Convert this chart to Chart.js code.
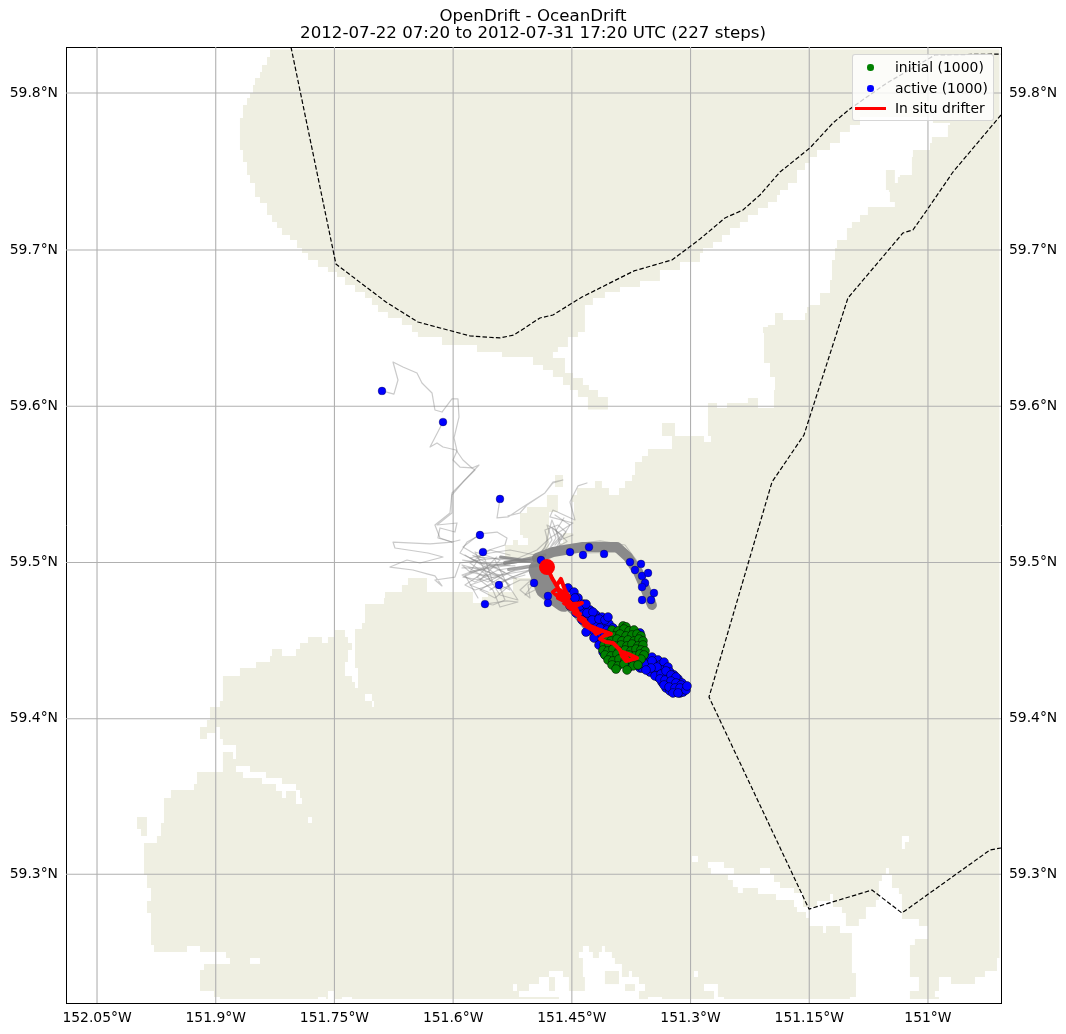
<!DOCTYPE html>
<html>
<head>
<meta charset="utf-8">
<title>OpenDrift - OceanDrift</title>
<script src="https://cdn.jsdelivr.net/npm/chart.js@4/dist/chart.umd.js"></script>
<style>
    body { margin: 0; background: #fff; font-family: "DejaVu Sans", sans-serif; }
    #wrap { position: relative; width: 1066px; height: 1034px; }
    #legend {
        position: absolute; left: 852px; top: 54px; width: 142px; height: 67px; box-sizing: border-box;
        background: rgba(255, 255, 255, 0.8); border: 1px solid rgba(204, 204, 204, 0.8); border-radius: 3px;
        font-size: 13.9px; color: #000;
    }
    #legend .row { position: absolute; left: 0; height: 20px; line-height: 20px; white-space: nowrap; }
    #legend .label { position: absolute; left: 42px; }
    #legend .dot { position: absolute; left: 14px; top: 7px; width: 6.5px; height: 6.5px; border-radius: 50%; }
    #legend .line { position: absolute; left: 2px; top: 9px; width: 31px; height: 2.8px; }
</style>
</head>
<body>
<div id="wrap">
    <canvas id="chart" width="1066" height="1034"></canvas>
    <div id="legend"></div>
</div>
<script>
const lonMin = -152.0892, lonMax = -150.9077, latMin = 59.2176, latMax = 59.8294;
const lonTicks = [-152.05, -151.9, -151.75, -151.6, -151.45, -151.3, -151.15, -151];
// the map is Mercator, so the inner parallels sit a hair off a straight lat axis
const latTicks = [59.3, 59.3995, 59.4995, 59.5995, 59.6995, 59.8];

const titleLines = ['OpenDrift - OceanDrift', '2012-07-22 07:20 to 2012-07-31 17:20 UTC (227 steps)'];
const legendInitial = 'initial (1000)', legendActive = 'active (1000)', legendDrifter = 'In situ drifter';

const landColor = '#efefe2', gridColor = '#b0b0b0', initialColor = '#008000', activeColor = '#0000ff', drifterColor = '#ff0000';

// coast, lon/lat, walked round the whole land raster
const coastline = [
    [-151.8289,59.8278],[-151.8314,59.8230],[-151.8352,59.8179],[-151.8415,59.8134],[-151.8441,59.8096],[-151.8504,59.8051],[-151.8529,59.8000],[-151.8567,59.7968],[-151.8605,59.7923],[-151.8656,59.7840],[-151.8694,59.7795],[-151.8694,59.7635],[-151.8656,59.7558],[-151.8605,59.7475],[-151.8567,59.7424],[-151.8504,59.7334],[-151.8441,59.7296],[-151.8352,59.7219],[-151.8289,59.7174],[-151.8226,59.7136],[-151.8163,59.7091],[-151.8062,59.7059],[-151.7973,59.7008],[-151.7910,59.6976],[-151.7834,59.6931],[-151.7708,59.6886],[-151.7582,59.6854],[-151.7468,59.6822],[-151.7367,59.6771],[-151.7240,59.6726],[-151.7114,59.6688],[-151.7026,59.6643],[-151.6950,59.6598],[-151.6824,59.6560],[-151.6647,59.6515],[-151.6520,59.6470],[-151.6445,59.6438],[-151.6141,59.6387],[-151.5699,59.6342],[-151.5383,59.6310],[-151.4991,59.6259],[-151.4865,59.6227],[-151.4739,59.6182],[-151.4612,59.6131],[-151.4524,59.6099],[-151.4423,59.6054],[-151.4297,59.5974],[-151.4044,59.5974],[-151.4044,59.6054],[-151.4170,59.6099],[-151.4284,59.6131],[-151.4360,59.6176],[-151.4486,59.6208],[-151.4587,59.6259],[-151.4587,59.6304],[-151.4739,59.6342],[-151.4676,59.6374],[-151.4550,59.6438],[-151.4423,59.6470],[-151.4335,59.6643],[-151.4234,59.6688],[-151.4082,59.6726],[-151.3892,59.6758],[-151.3639,59.6797],[-151.3387,59.6867],[-151.3134,59.6918],[-151.2881,59.6976],[-151.2843,59.7008],[-151.2717,59.7046],[-151.2603,59.7091],[-151.2502,59.7136],[-151.2376,59.7174],[-151.2275,59.7219],[-151.2148,59.7264],[-151.2022,59.7302],[-151.1908,59.7347],[-151.1870,59.7379],[-151.1769,59.7424],[-151.1655,59.7507],[-151.1554,59.7552],[-151.1491,59.7590],[-151.1402,59.7635],[-151.1238,59.7680],[-151.1112,59.7750],[-151.0986,59.7795],[-151.0859,59.7846],[-151.0101,59.7846],[-150.9937,59.7808],[-150.9722,59.7795],[-150.9748,59.7718],[-150.9950,59.7680],[-150.9975,59.7635],[-151.0165,59.7635],[-151.0190,59.7590],[-151.0203,59.7475],[-151.0354,59.7462],[-151.0380,59.7424],[-151.0418,59.7507],[-151.0531,59.7507],[-151.0531,59.7379],[-151.0493,59.7366],[-151.0481,59.7302],[-151.0418,59.7270],[-151.0759,59.7296],[-151.0759,59.7219],[-151.0859,59.7174],[-151.0961,59.7136],[-151.1024,59.7059],[-151.1150,59.7008],[-151.1175,59.6931],[-151.1213,59.6803],[-151.1238,59.6720],[-151.1364,59.6720],[-151.1364,59.6643],[-151.1491,59.6630],[-151.1529,59.6592],[-151.1554,59.6547],[-151.1794,59.6547],[-151.1832,59.6592],[-151.1920,59.6592],[-151.1933,59.6515],[-151.2022,59.6502],[-151.2085,59.6464],[-151.2072,59.6272],[-151.1996,59.6182],[-151.1933,59.6099],[-151.1946,59.5984],[-151.2123,59.5984],[-151.2148,59.6048],[-151.2275,59.6048],[-151.2275,59.6016],[-151.2528,59.6016],[-151.2540,59.5984],[-151.2666,59.5977],[-151.2666,59.6016],[-151.2729,59.6016],[-151.2780,59.5984],[-151.2780,59.5805],[-151.2742,59.5805],[-151.2742,59.5766],[-151.2830,59.5766],[-151.2830,59.5805],[-151.3197,59.5805],[-151.3197,59.5888],[-151.3361,59.5888],[-151.3361,59.5805],[-151.3235,59.5805],[-151.3235,59.5722],[-151.3538,59.5722],[-151.3538,59.5677],[-151.3614,59.5677],[-151.3614,59.5638],[-151.3702,59.5600],[-151.3702,59.5555],[-151.3740,59.5555],[-151.3740,59.5517],[-151.3828,59.5517],[-151.3828,59.5472],[-151.3904,59.5472],[-151.3904,59.5427],[-151.4031,59.5427],[-151.4031,59.5472],[-151.4120,59.5472],[-151.4120,59.5517],[-151.4208,59.5517],[-151.4208,59.5472],[-151.4347,59.5472],[-151.4436,59.5427],[-151.4499,59.5382],[-151.4473,59.5267],[-151.4486,59.5184],[-151.4612,59.5120],[-151.4650,59.5062],[-151.4789,59.5062],[-151.4789,59.5319],[-151.4676,59.5363],[-151.4676,59.5427],[-151.4802,59.5427],[-151.4815,59.5350],[-151.4991,59.5350],[-151.5067,59.5312],[-151.5155,59.5254],[-151.5155,59.5171],[-151.5118,59.5152],[-151.5054,59.5139],[-151.5054,59.5107],[-151.5181,59.5107],[-151.5181,59.5139],[-151.5244,59.5139],[-151.5244,59.5107],[-151.5345,59.5107],[-151.5345,59.5024],[-151.4966,59.5024],[-151.4966,59.4896],[-151.5244,59.4806],[-151.5560,59.4774],[-151.5636,59.4736],[-151.5750,59.4736],[-151.5750,59.4806],[-151.6166,59.4806],[-151.6330,59.4896],[-151.6520,59.4896],[-151.6571,59.4851],[-151.6647,59.4806],[-151.6861,59.4768],[-151.6874,59.4729],[-151.7114,59.4729],[-151.7114,59.4608],[-151.7152,59.4608],[-151.7152,59.4570],[-151.7240,59.4570],[-151.7240,59.4320],[-151.7202,59.4320],[-151.7202,59.4192],[-151.7240,59.4192],[-151.7240,59.4230],[-151.7278,59.4230],[-151.7278,59.4269],[-151.7367,59.4269],[-151.7367,59.4358],[-151.7329,59.4358],[-151.7329,59.4435],[-151.7278,59.4441],[-151.7278,59.4480],[-151.7329,59.4480],[-151.7329,59.4518],[-151.7367,59.4518],[-151.7367,59.4563],[-151.7493,59.4570],[-151.7493,59.4518],[-151.7582,59.4518],[-151.7582,59.4480],[-151.7657,59.4480],[-151.7657,59.4518],[-151.7834,59.4518],[-151.7834,59.4480],[-151.7935,59.4480],[-151.7935,59.4441],[-151.7986,59.4441],[-151.7986,59.4397],[-151.8163,59.4397],[-151.8163,59.4441],[-151.8289,59.4441],[-151.8289,59.4397],[-151.8314,59.4397],[-151.8314,59.4358],[-151.8491,59.4358],[-151.8491,59.4320],[-151.8694,59.4320],[-151.8694,59.4269],[-151.8909,59.4269],[-151.8909,59.4109],[-151.8947,59.4109],[-151.8947,59.4070],[-151.9073,59.4070],[-151.9073,59.3987],[-151.9111,59.3981],[-151.9111,59.3942],[-151.9199,59.3942],[-151.9199,59.3866],[-151.9111,59.3866],[-151.9111,59.3904],[-151.8997,59.3904],[-151.8997,59.3942],[-151.8947,59.3942],[-151.8947,59.3866],[-151.8909,59.3866],[-151.8909,59.3827],[-151.8744,59.3821],[-151.8744,59.3738],[-151.8782,59.3738],[-151.8782,59.3782],[-151.8909,59.3782],[-151.8909,59.3654],[-151.9237,59.3654],[-151.9237,59.3577],[-151.9275,59.3577],[-151.9275,59.3539],[-151.9566,59.3533],[-151.9566,59.3488],[-151.9654,59.3488],[-151.9654,59.3328],[-151.9692,59.3328],[-151.9692,59.3245],[-151.9743,59.3245],[-151.9743,59.3200],[-151.9906,59.3200],[-151.9906,59.2995],[-151.9869,59.2995],[-151.9869,59.2912],[-151.9818,59.2912],[-151.9818,59.2829],[-151.9869,59.2829],[-151.9869,59.2752],[-151.9818,59.2752],[-151.9818,59.2547],[-151.9780,59.2535],[-151.9780,59.2503],[-151.9363,59.2503],[-151.9363,59.2541],[-151.9199,59.2541],[-151.9199,59.2503],[-151.8870,59.2503],[-151.8870,59.2464],[-151.8820,59.2464],[-151.8820,59.2426],[-151.9148,59.2426],[-151.9148,59.2387],[-151.9199,59.2381],[-151.9199,59.2253],[-151.9022,59.2253],[-151.9022,59.2214],[-151.8947,59.2214],[-151.8947,59.2201],[-150.9097,59.2201],[-150.9097,59.8278],[-151.8289,59.8278]
];

// white inlets and lakes cut out of the land
const lakes = [
    [[-151.7114,59.4153],[-151.7026,59.4153],[-151.7026,59.4109],[-151.7000,59.4109],[-151.7000,59.4070],[-151.7026,59.4070],[-151.7026,59.4109],[-151.7114,59.4109]],
    [[-151.8744,59.3693],[-151.8567,59.3693],[-151.8567,59.3654],[-151.8365,59.3654],[-151.8365,59.3616],[-151.8163,59.3616],[-151.8163,59.3577],[-151.7986,59.3577],[-151.7986,59.3539],[-151.7935,59.3533],[-151.7935,59.3488],[-151.7910,59.3488],[-151.7910,59.3450],[-151.7986,59.3450],[-151.7986,59.3533],[-151.8112,59.3533],[-151.8112,59.3488],[-151.8163,59.3488],[-151.8163,59.3533],[-151.8238,59.3533],[-151.8238,59.3577],[-151.8415,59.3577],[-151.8415,59.3616],[-151.8656,59.3616],[-151.8656,59.3654],[-151.8744,59.3654]],
    [[-151.6546,59.2201],[-151.4663,59.2201],[-151.4663,59.2214],[-151.5168,59.2214],[-151.5168,59.2253],[-151.5042,59.2253],[-151.5042,59.2297],[-151.4915,59.2297],[-151.4915,59.2342],[-151.4789,59.2342],[-151.4789,59.2381],[-151.4612,59.2381],[-151.4612,59.2342],[-151.4537,59.2342],[-151.4537,59.2253],[-151.4335,59.2253],[-151.4335,59.2342],[-151.4360,59.2342],[-151.4360,59.2464],[-151.4411,59.2464],[-151.4411,59.2503],[-151.4360,59.2503],[-151.4360,59.2541],[-151.4284,59.2541],[-151.4284,59.2503],[-151.4234,59.2503],[-151.4234,59.2464],[-151.4158,59.2464],[-151.4158,59.2503],[-151.4120,59.2503],[-151.4120,59.2541],[-151.4082,59.2541],[-151.4082,59.2503],[-151.3994,59.2503],[-151.3994,59.2464],[-151.3956,59.2464],[-151.3956,59.2426],[-151.3867,59.2426],[-151.3867,59.2342],[-151.3779,59.2342],[-151.3779,59.2381],[-151.3740,59.2381],[-151.3740,59.2342],[-151.3652,59.2342],[-151.3652,59.2297],[-151.3576,59.2297],[-151.3576,59.2253],[-151.3538,59.2253],[-151.3538,59.2214],[-151.3361,59.2214],[-151.3361,59.2189],[-151.6546,59.2189]],
    [[-151.2528,59.2995],[-151.2528,59.2963],[-151.2465,59.2963],[-151.2465,59.2918],[-151.2402,59.2918],[-151.2402,59.2880],[-151.2339,59.2880],[-151.2339,59.2912],[-151.2148,59.2912],[-151.2148,59.2873],[-151.1920,59.2873],[-151.1920,59.2835],[-151.1693,59.2835],[-151.1693,59.2790],[-151.1655,59.2758],[-151.1541,59.2758],[-151.1541,59.2720],[-151.1503,59.2720],[-151.1503,59.2669],[-151.1326,59.2669],[-151.1326,59.2624],[-151.1288,59.2624],[-151.1288,59.2669],[-151.1112,59.2669],[-151.1112,59.2624],[-151.0986,59.2624],[-151.0961,59.2579],[-151.0961,59.2368],[-151.0910,59.2368],[-151.0910,59.2214],[-151.0986,59.2214],[-151.0986,59.2189],[-151.0228,59.2189],[-151.0228,59.2253],[-151.0114,59.2253],[-151.0114,59.2342],[-151.0228,59.2342],[-151.0228,59.2547],[-151.0165,59.2547],[-151.0165,59.2586],[-151.0000,59.2586],[-151.0000,59.2669],[-151.0114,59.2669],[-151.0114,59.2714],[-151.0329,59.2714],[-151.0329,59.2873],[-151.0367,59.2873],[-151.0367,59.2912],[-151.0455,59.2912],[-151.0455,59.2995],[-151.0582,59.2995],[-151.0582,59.2957],[-151.0620,59.2957],[-151.0620,59.2835],[-151.0658,59.2835],[-151.0658,59.2790],[-151.0784,59.2752],[-151.0784,59.2714],[-151.0873,59.2714],[-151.0873,59.2669],[-151.0961,59.2669],[-151.1037,59.2714],[-151.1037,59.2752],[-151.1087,59.2790],[-151.1200,59.2790],[-151.1200,59.2873],[-151.1238,59.2873],[-151.1238,59.2829],[-151.1402,59.2829],[-151.1402,59.2790],[-151.1503,59.2790],[-151.1579,59.2880],[-151.1693,59.2912],[-151.1870,59.2918],[-151.1870,59.2950],[-151.1946,59.2950],[-151.1946,59.2995]],
    [[-150.9077,59.2464],[-150.9128,59.2464],[-150.9128,59.2381],[-150.9280,59.2381],[-150.9280,59.2342],[-150.9406,59.2342],[-150.9406,59.2297],[-150.9709,59.2297],[-150.9709,59.2342],[-150.9861,59.2342],[-150.9861,59.2253],[-150.9912,59.2253],[-150.9912,59.2214],[-150.9861,59.2189],[-150.9077,59.2189]],
    [[-151.2780,59.3078],[-151.2578,59.3078],[-151.2578,59.3040],[-151.2452,59.3040],[-151.2452,59.3001],[-151.2742,59.3001],[-151.2742,59.3040],[-151.2780,59.3040]],
    [[-151.0329,59.3245],[-151.0240,59.3245],[-151.0240,59.3206],[-151.0291,59.3206],[-151.0291,59.3162],[-151.0329,59.3162]],
    [[-151.2830,59.2297],[-151.2654,59.2297],[-151.2654,59.2214],[-151.2578,59.2214],[-151.2578,59.2195],[-151.2704,59.2195],[-151.2704,59.2253],[-151.2830,59.2253]]
];
// small boxes: lonA, latA, lonB, latB
const lakeBoxes = [
    [-151.7834,59.3366,-151.7784,59.3328],[-151.8567,59.2464,-151.8441,59.2426],[-151.7582,59.2253,-151.7493,59.2201],
    [-151.7708,59.2214,-151.7607,59.2189],[-151.7405,59.2214,-151.7278,59.2189],[-151.2982,59.3117,-151.2906,59.3078],
    [-151.2123,59.3040,-151.1996,59.3001],[-151.0531,59.3040,-151.0493,59.3001],[-151.2957,59.2381,-151.2906,59.2342],
    [-151.5244,59.2297,-151.5193,59.2253]
];
const islandBoxes = [
    [-151.4713,59.5555,-151.4612,59.5478],[-151.4082,59.2381,-151.3904,59.2297],[-151.4789,59.2342,-151.4713,59.2253],
    [-151.3828,59.2297,-151.3702,59.2253],[-151.3652,59.2253,-151.3538,59.2201]
];
const westIsland = [[-151.9995,59.3366],[-151.9869,59.3366],[-151.9869,59.3245],[-151.9944,59.3245],[-151.9944,59.3290],[-151.9995,59.3290]];

// dashed boundary lines
const boundaryNorth = [
    [-151.8049,59.8294],[-151.7481,59.6905],[-151.6849,59.6662],[-151.6445,59.6534],[-151.5787,59.6445],[-151.5408,59.6432],[-151.5231,59.6451],[-151.4903,59.6560],[-151.4739,59.6579],[-151.4372,59.6694],[-151.3892,59.6816],[-151.3715,59.6861],[-151.3235,59.6931],[-151.2881,59.7065],[-151.2565,59.7200],[-151.2338,59.7251],[-151.2123,59.7347],[-151.1870,59.7494],[-151.1491,59.7648],[-151.1200,59.7808],[-151.0986,59.7898],[-151.0518,59.8064],[-150.9911,59.8243],[-150.9077,59.8249]
];
const boundaryEast = [
    [-150.9077,59.7859],[-150.9684,59.7494],[-151.0012,59.7251],[-151.0190,59.7123],[-151.0316,59.7104],[-151.1011,59.6688],[-151.1567,59.5811],[-151.1971,59.5510],[-151.2767,59.4134],[-151.1503,59.2777],[-151.0707,59.2899],[-151.0329,59.2752],[-150.9217,59.3155],[-150.9077,59.3168]
];

// particle trajectories
const tracks = [
    [[-151.6899,59.6093],[-151.6748,59.6073],[-151.6697,59.6163],[-151.6760,59.6278],[-151.6634,59.6246],[-151.6457,59.6208],[-151.6394,59.6144],[-151.6267,59.6080],[-151.6230,59.5971],[-151.6141,59.5958],[-151.6015,59.6042],[-151.5939,59.6042],[-151.5926,59.5926],[-151.5989,59.5792],[-151.5951,59.5709],[-151.6002,59.5651],[-151.5914,59.5606],[-151.5762,59.5600],[-151.5724,59.5587],[-151.6015,59.5440],[-151.6040,59.5312],[-151.6230,59.5235],[-151.6166,59.5152],[-151.6015,59.5126]],
    [[-151.6128,59.5894],[-151.6292,59.5734],[-151.6204,59.5760],[-151.6128,59.5734],[-151.5964,59.5715],[-151.5876,59.5651],[-151.5762,59.5600],[-151.5673,59.5619],[-151.5876,59.5510],[-151.6015,59.5427],[-151.6015,59.5312],[-151.6204,59.5235],[-151.5951,59.5248],[-151.5977,59.5190],[-151.6166,59.5216],[-151.6192,59.5152],[-151.6015,59.5126],[-151.5914,59.5139]],
    [[-151.6015,59.5126],[-151.6292,59.5114],[-151.6760,59.5126],[-151.6735,59.5088],[-151.6318,59.5056],[-151.6128,59.5030],[-151.6419,59.4992],[-151.6583,59.5011],[-151.6798,59.4966],[-151.6508,59.4947],[-151.6330,59.4922],[-151.6230,59.4909],[-151.6141,59.4845],[-151.6230,59.4883],[-151.5977,59.4902],[-151.5914,59.4992],[-151.5661,59.5011]],
    [[-151.5661,59.5171],[-151.5825,59.5126],[-151.5914,59.5056],[-151.5661,59.4992],[-151.5345,59.4979]],
    [[-151.5623,59.5062],[-151.5345,59.5107],[-151.5320,59.5152],[-151.5446,59.5190],[-151.5661,59.5178],[-151.5876,59.5094],[-151.5661,59.5030],[-151.5320,59.5011],[-151.4941,59.4992]],
    [[-151.5408,59.5402],[-151.5446,59.5280],[-151.5307,59.5287],[-151.5118,59.5350],[-151.4840,59.5440],[-151.4739,59.5504],[-151.4612,59.5523],[-151.4739,59.5510],[-151.4840,59.5440],[-151.5067,59.5363],[-151.5155,59.5312],[-151.5307,59.5293]],
    [[-151.4309,59.5504],[-151.4423,59.5485],[-151.4524,59.5382],[-151.4461,59.5267],[-151.4739,59.5331],[-151.4777,59.5287],[-151.4486,59.5248],[-151.4777,59.5152],[-151.4941,59.5075],[-151.5320,59.4992]],
    [[-151.4486,59.5171],[-151.4650,59.5139],[-151.4752,59.5267],[-151.4802,59.5171],[-151.4840,59.5088],[-151.4966,59.5024]],
    [[-151.4713,59.5299],[-151.4524,59.5235],[-151.4701,59.5088],[-151.4840,59.5043]],
    [[-151.4600,59.5280],[-151.4700,59.5200],[-151.4560,59.5130],[-151.4770,59.5070],[-151.4900,59.5040]],
    [[-151.5598,59.4729],[-151.5320,59.4749],[-151.5181,59.4742],[-151.5408,59.4710],[-151.5497,59.4819],[-151.5661,59.4883],[-151.5876,59.4902],[-151.5661,59.4947],[-151.5282,59.4979]],
    [[-151.5421,59.4851],[-151.5345,59.4755],[-151.5497,59.4723],[-151.5623,59.4736]],
    [[-151.4941,59.5011],[-151.5408,59.4979],[-151.5787,59.4934],[-151.5888,59.4979],[-151.5408,59.4915],[-151.5787,59.4851],[-151.5560,59.4806]],
    [[-151.4903,59.4979],[-151.5282,59.4934],[-151.5661,59.4819],[-151.5471,59.4768],[-151.5282,59.4851],[-151.5535,59.4947],[-151.5851,59.5043]],
    [[-151.4966,59.4960],[-151.5345,59.4883],[-151.5181,59.4755],[-151.5408,59.4787],[-151.5573,59.4915],[-151.5787,59.4992],[-151.5535,59.5075],[-151.5282,59.5043]],
    [[-151.4840,59.4979],[-151.5219,59.5011],[-151.5598,59.4960],[-151.5851,59.4915],[-151.5686,59.4768]],
    [[-151.4903,59.4934],[-151.5155,59.4819],[-151.5029,59.4768],[-151.5054,59.4851],[-151.4840,59.4896]],
    [[-151.5661,59.4883],[-151.5408,59.5011],[-151.5724,59.5062],[-151.5535,59.4883],[-151.5282,59.4819],[-151.5471,59.5011]],
    [[-151.5800,59.4960],[-151.5500,59.4870],[-151.5600,59.5020],[-151.5750,59.5040],[-151.5450,59.4960],[-151.5200,59.4890]],
    [[-151.5880,59.5010],[-151.5600,59.4990],[-151.5350,59.4930],[-151.5560,59.4870],[-151.5700,59.4900],[-151.5450,59.5030]],
    [[-151.4966,59.5011],[-151.5408,59.5024],[-151.5686,59.5011],[-151.5787,59.4934],[-151.5471,59.4896],[-151.5219,59.4947]],
    [[-151.5029,59.4979],[-151.5433,59.4947],[-151.5724,59.4870],[-151.5888,59.4915],[-151.5535,59.4979],[-151.5155,59.4998]],
    [[-151.4928,59.4960],[-151.5282,59.4896],[-151.5535,59.4819],[-151.5345,59.4883],[-151.5661,59.4960],[-151.5888,59.4960]],
    [[-151.4903,59.4915],[-151.5092,59.4787],[-151.4966,59.4819],[-151.4941,59.4883],[-151.5155,59.4883],[-151.5408,59.4819]],
    [[-151.4966,59.5043],[-151.5282,59.5075],[-151.5535,59.5056],[-151.5787,59.5024],[-151.5598,59.4979],[-151.5219,59.4973]],
    [[-151.5016,59.4947],[-151.5408,59.4915],[-151.5661,59.4915],[-151.5851,59.4851],[-151.5724,59.4819],[-151.5408,59.4870],[-151.5092,59.4915]],
    [[-151.4903,59.5024],[-151.4751,59.5139],[-151.4814,59.5235],[-151.4701,59.5203],[-151.4650,59.5107],[-151.4777,59.5062]],
    [[-151.4840,59.5037],[-151.4701,59.5152],[-151.4751,59.5216],[-151.4625,59.5171],[-151.4802,59.5075]],
    [[-151.4928,59.5030],[-151.4802,59.5126],[-151.4840,59.5203],[-151.4676,59.5235],[-151.4574,59.5190],[-151.4713,59.5107]],
    [[-151.4650,59.5101],[-151.4144,59.5133],[-151.3828,59.5107],[-151.3639,59.4979],[-151.3450,59.4755]],
    [[-151.4334,59.5056],[-151.3891,59.5062],[-151.3740,59.4973],[-151.3601,59.4819]]
];
// bundles so dense in the picture that they read as one wide stroke
const bundleEast = [[-151.4941,59.5024],[-151.4739,59.5062],[-151.4360,59.5094],[-151.4056,59.5094],[-151.3930,59.5094],[-151.3791,59.5030],[-151.3664,59.4934],[-151.3576,59.4834],[-151.3488,59.4723]];
const bundleBlob = [[-151.4928,59.4950],[-151.4839,59.4825],[-151.4600,59.4740]];
const bundleSouthEast = [[-151.4600,59.4740],[-151.4453,59.4678],[-151.4163,59.4499]];
const bundleFanA = [[-151.4903,59.5011],[-151.5190,59.5005],[-151.5345,59.4992]];
const bundleFanB = [[-151.4840,59.5043],[-151.5130,59.5011],[-151.5400,59.5030]];
const bundleFanC = [[-151.4903,59.4979],[-151.5150,59.4960],[-151.5300,59.4950]];

const activeOutliers = [
    [-151.6899,59.6093],[-151.6128,59.5894],[-151.5408,59.5402],[-151.5661,59.5171],[-151.5623,59.5062],[-151.5421,59.4851],[-151.5598,59.4729],[-151.4978,59.4864],[-151.4802,59.4781],[-151.4802,59.4736],[-151.4890,59.5011],[-151.4523,59.5062],[-151.4359,59.5043],[-151.4283,59.5094],[-151.4093,59.5050],[-151.3765,59.4998],[-151.3626,59.4986],[-151.3702,59.4947],[-151.3613,59.4909],[-151.3537,59.4928],[-151.3575,59.4864],[-151.3613,59.4838],[-151.3462,59.4800],[-151.3613,59.4755],[-151.3499,59.4755]
];
const activeBody = [
    [-151.4548,59.4832],[-151.4473,59.4806],[-151.4574,59.4774],[-151.4498,59.4755],[-151.4422,59.4768],[-151.4523,59.4717],[-151.4435,59.4717],[-151.4359,59.4729],[-151.4447,59.4672],[-151.4346,59.4678],[-151.4270,59.4691],[-151.4371,59.4627],[-151.4270,59.4640],[-151.4195,59.4659],[-151.4119,59.4646],[-151.4296,59.4602],[-151.4195,59.4608],[-151.4106,59.4608],[-151.4030,59.4602],[-151.4245,59.4563],[-151.4144,59.4576],[-151.4056,59.4563],[-151.3980,59.4576],[-151.4182,59.4525],[-151.4081,59.4538],[-151.4005,59.4525],[-151.4131,59.4473],[-151.4056,59.4435],[-151.3992,59.4403],[-151.4081,59.4403],
    [-151.4460,59.4768],[-151.4397,59.4717],[-151.4321,59.4729],[-151.4309,59.4672],[-151.4233,59.4678],[-151.4245,59.4627],[-151.4157,59.4633],[-151.4081,59.4627],[-151.4043,59.4646],[-151.4321,59.4550],[-151.4220,59.4512],[-151.4157,59.4467],[-151.4106,59.4422],[-151.4018,59.4371],[-151.3942,59.4339],[-151.3639,59.4544],[-151.3714,59.4345],[-151.3790,59.4320],[-151.3639,59.4320],
    [-151.3639,59.4358],[-151.3563,59.4384],[-151.3487,59.4390],[-151.3411,59.4371],[-151.3537,59.4333],[-151.3462,59.4345],[-151.3386,59.4339],[-151.3335,59.4358],[-151.3613,59.4320],[-151.3512,59.4294],[-151.3436,59.4301],[-151.3361,59.4307],[-151.3285,59.4326],[-151.3260,59.4294],
    [-151.3411,59.4262],[-151.3335,59.4269],[-151.3260,59.4256],[-151.3209,59.4275],[-151.3361,59.4230],[-151.3285,59.4218],[-151.3209,59.4230],[-151.3158,59.4250],[-151.3310,59.4192],[-151.3234,59.4186],[-151.3158,59.4205],[-151.3108,59.4224],[-151.3260,59.4173],[-151.3196,59.4166],[-151.3133,59.4179],[-151.3083,59.4198],[-151.3133,59.4160],[-151.3095,59.4166],
    [-151.3613,59.4371],[-151.3664,59.4339],[-151.3575,59.4345],[-151.3487,59.4365],[-151.3424,59.4326],[-151.3499,59.4320],[-151.3563,59.4307],[-151.3449,59.4269],[-151.3373,59.4281],[-151.3310,59.4301],[-151.3386,59.4250],[-151.3322,59.4243],[-151.3247,59.4275],[-151.3184,59.4262],[-151.3247,59.4236],[-151.3184,59.4224],[-151.3120,59.4211],[-151.3335,59.4211],[-151.3272,59.4198],[-151.3196,59.4192],[-151.3133,59.4192],[-151.3222,59.4160],[-151.3158,59.4160],[-151.3057,59.4179],[-151.3045,59.4205]
];
const initialPoints = [
    [-151.3853,59.4589],[-151.3815,59.4583],
    [-151.3992,59.4563],[-151.3917,59.4557],[-151.3841,59.4569],[-151.3777,59.4557],[-151.3714,59.4563],
    [-151.4043,59.4531],[-151.3967,59.4525],[-151.3891,59.4537],[-151.3815,59.4525],[-151.3740,59.4531],[-151.3676,59.4537],[-151.3626,59.4525],
    [-151.4081,59.4499],[-151.4005,59.4493],[-151.3929,59.4505],[-151.3866,59.4493],[-151.3790,59.4499],[-151.3714,59.4493],[-151.3651,59.4505],[-151.3601,59.4493],
    [-151.4093,59.4467],[-151.4030,59.4473],[-151.3954,59.4461],[-151.3879,59.4467],[-151.3803,59.4461],[-151.3740,59.4473],[-151.3664,59.4461],[-151.3601,59.4467],
    [-151.4106,59.4435],[-151.4043,59.4429],[-151.3980,59.4441],[-151.3904,59.4429],[-151.3828,59.4435],[-151.3752,59.4429],[-151.3689,59.4441],[-151.3626,59.4435],[-151.3575,59.4429],
    [-151.4081,59.4403],[-151.4005,59.4397],[-151.3929,59.4409],[-151.3853,59.4397],[-151.3777,59.4403],[-151.3702,59.4397],[-151.3639,59.4409],[-151.3588,59.4403],
    [-151.4043,59.4371],[-151.3980,59.4365],[-151.3904,59.4377],[-151.3828,59.4365],[-151.3752,59.4371],[-151.3676,59.4365],[-151.3626,59.4377],
    [-151.3992,59.4339],[-151.3917,59.4333],[-151.3841,59.4345],[-151.3727,59.4333],[-151.3664,59.4339],
    [-151.3942,59.4313],[-151.3803,59.4307]
];
const drifterPath = [
    [-151.4814,59.4966],[-151.4751,59.4896],[-151.4676,59.4832],[-151.4739,59.4806],[-151.4625,59.4755],[-151.4688,59.4851],[-151.4638,59.4890],[-151.4587,59.4819],[-151.4537,59.4774],[-151.4600,59.4736],[-151.4499,59.4704],[-151.4372,59.4736],[-151.4473,59.4729],[-151.4423,59.4678],[-151.4499,59.4717],
    [-151.4650,59.4819],[-151.4574,59.4781],[-151.4676,59.4768],[-151.4523,59.4729],[-151.4600,59.4781],[-151.4460,59.4710],[-151.4548,59.4710],[-151.4397,59.4665],[-151.4473,59.4672],[-151.4334,59.4627],[-151.4410,59.4633],[-151.4271,59.4582],[-151.4346,59.4595],[-151.4195,59.4550],
    [-151.4385,59.4640],[-151.4297,59.4595],[-151.4347,59.4627],[-151.4246,59.4576],[-151.4144,59.4550],[-151.4195,59.4538],[-151.4271,59.4589],[-151.4144,59.4563],[-151.4005,59.4538],[-151.4094,59.4525],[-151.4144,59.4506],[-151.4068,59.4486],[-151.3980,59.4480],[-151.3891,59.4435],[-151.3866,59.4397],[-151.3815,59.4365],[-151.3676,59.4384],[-151.3790,59.4410],[-151.3853,59.4422],[-151.3803,59.4384]
];
const drifterStart = [[-151.4814,59.4966]];

function toXY(pairs) {
    return pairs.map(function (p) { return {x: p[0], y: p[1]}; });
}
function boxToPolygon(b) {
    return [[b[0], b[1]], [b[2], b[1]], [b[2], b[3]], [b[0], b[3]]];
}
function closeRing(pairs) {
    return pairs.concat([pairs[0]]);
}
function area(pairs, color) {
    // stepped keeps the blocky raster edge of the land mask
    return {data: toXY(closeRing(pairs)), showLine: true, stepped: true, fill: 'shape', backgroundColor: color, borderWidth: 0, pointRadius: 0};
}
function line(pairs, color, width, extra) {
    return Object.assign({data: toXY(pairs), showLine: true, fill: false, borderColor: color, borderWidth: width, pointRadius: 0, borderJoinStyle: 'round', borderCapStyle: 'round'}, extra || {});
}
function dots(pairs, color, radius, edge) {
    return {data: toXY(pairs), showLine: false, backgroundColor: color, borderColor: '#000', borderWidth: edge, pointRadius: radius};
}

var datasets = [area(coastline, landColor)];
lakes.forEach(function (l) { datasets.push(area(l, '#fff')); });
lakeBoxes.forEach(function (b) { datasets.push(area(boxToPolygon(b), '#fff')); });
islandBoxes.forEach(function (b) { datasets.push(area(boxToPolygon(b), landColor)); });
datasets.push(area(westIsland, landColor));

lonTicks.forEach(function (v) { datasets.push(line([[v, latMin], [v, latMax]], gridColor, 1.1)); });
latTicks.forEach(function (v) { datasets.push(line([[lonMin, v], [lonMax, v]], gridColor, 1.1)); });

datasets.push(line(boundaryNorth, '#000', 1.2, {borderDash: [4.5, 2.2], borderCapStyle: 'butt'}));
datasets.push(line(boundaryEast, '#000', 1.2, {borderDash: [4.5, 2.2], borderCapStyle: 'butt'}));

tracks.forEach(function (t) { datasets.push(line(t, 'rgba(128,128,128,0.42)', 1.2)); });
datasets.push(line(bundleEast, '#8a8a8a', 10));
datasets.push(line(bundleBlob, '#8a8a8a', 19));
datasets.push(line(bundleSouthEast, '#8a8a8a', 9));
datasets.push(line(bundleFanA, 'rgba(128,128,128,0.8)', 4));
datasets.push(line(bundleFanB, 'rgba(128,128,128,0.8)', 3));
datasets.push(line(bundleFanC, 'rgba(128,128,128,0.7)', 3));

datasets.push(dots(activeBody, activeColor, 4.4, 0.5));
datasets.push(dots(activeOutliers, activeColor, 3.9, 0.3));
datasets.push(dots(initialPoints, initialColor, 4.4, 0.5));
datasets.push(line(drifterPath, drifterColor, 4));
datasets.push(dots(drifterStart, drifterColor, 8, 0));

datasets.forEach(function (d, i) { d.order = -i; });

function fixedTicks(values) {
    return function (scale) {
        scale.ticks = values.map(function (v) { return {value: v}; });
    };
}
function lonLabel(v) {
    return parseFloat((-v).toFixed(2)) + '°W';
}
function latLabel(v) {
    return v.toFixed(1) + '°N';
}
var tickFont = {family: '"DejaVu Sans"', size: 13.9};
var axisBorder = {display: true, color: '#000', width: 1};
var noGrid = {display: true, drawOnChartArea: false, drawTicks: false};

new Chart(document.getElementById('chart').getContext('2d'), {
    type: 'scatter',
    data: {datasets: datasets},
    options: {
        responsive: false,
        animation: false,
        events: [],
        layout: {padding: 0},
        elements: {line: {tension: 0}, point: {hitRadius: 0}},
        plugins: {
            legend: {display: false},
            tooltip: {enabled: false},
            title: {
                display: true,
                text: titleLines,
                color: '#000',
                font: {family: '"DejaVu Sans"', size: 16.67, weight: 'normal', lineHeight: 1.05},
                padding: {top: 7.5, bottom: 4.5}
            }
        },
        scales: {
            x: {
                type: 'linear', position: 'bottom', min: lonMin, max: lonMax,
                grid: noGrid, border: axisBorder,
                afterBuildTicks: fixedTicks(lonTicks),
                afterFit: function (s) { s.height = 31; },
                ticks: {font: tickFont, color: '#000', padding: 7, maxRotation: 0, autoSkip: false, callback: lonLabel}
            },
            xTop: {
                type: 'linear', position: 'top', min: lonMin, max: lonMax,
                grid: noGrid, border: axisBorder,
                afterFit: function (s) { s.height = 0; },
                ticks: {display: false}
            },
            y: {
                type: 'linear', position: 'left', min: latMin, max: latMax,
                grid: noGrid, border: axisBorder,
                afterBuildTicks: fixedTicks(latTicks),
                afterFit: function (s) { s.width = 66; },
                ticks: {font: tickFont, color: '#000', padding: 8, autoSkip: false, callback: latLabel}
            },
            yRight: {
                type: 'linear', position: 'right', min: latMin, max: latMax,
                grid: noGrid, border: axisBorder,
                afterBuildTicks: fixedTicks(latTicks),
                afterFit: function (s) { s.width = 65; },
                ticks: {font: tickFont, color: '#000', padding: 8, autoSkip: false, callback: latLabel}
            }
        }
    }
});

// legend sits on top of the map like the matplotlib one
var legendRows = [
    {label: legendInitial, color: initialColor, kind: 'dot', top: 2},
    {label: legendActive, color: activeColor, kind: 'dot', top: 23},
    {label: legendDrifter, color: drifterColor, kind: 'line', top: 43}
];
var legendBox = document.getElementById('legend');
legendRows.forEach(function (r) {
    var row = document.createElement('div');
    row.className = 'row';
    row.style.top = r.top + 'px';
    var mark = document.createElement('span');
    mark.className = r.kind;
    mark.style.background = r.color;
    var text = document.createElement('span');
    text.className = 'label';
    text.textContent = r.label;
    row.appendChild(mark);
    row.appendChild(text);
    legendBox.appendChild(row);
});
</script>
</body>
</html>
